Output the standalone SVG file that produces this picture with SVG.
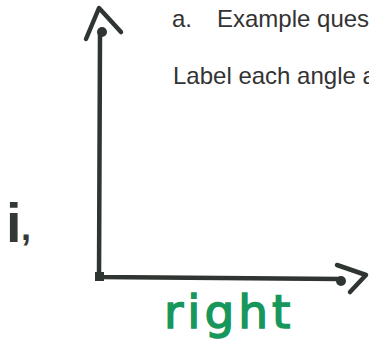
<svg xmlns="http://www.w3.org/2000/svg" width="369" height="345" viewBox="0 0 369 345">
<style>
.ink{fill:none;stroke:#2f3531;stroke-width:4.5;stroke-linecap:round;stroke-linejoin:round}
.dot{fill:#2f3531}
.print{font-family:"Liberation Sans",Arial,sans-serif;font-size:24px;fill:#333333}
</style>
<rect width="369" height="345" fill="#ffffff"/>
<g id="question-text">
<text class="print" x="172" y="27">a.</text>
<text class="print" x="217" y="27">Example ques</text>
<text class="print" x="173" y="84">Label each angle a</text>
</g>
<g id="label-i">
<text x="6" y="242" font-family="Liberation Sans,Arial,sans-serif" font-weight="bold" font-size="56" fill="#333a36">i</text>
<text x="21" y="240" font-family="Liberation Sans,Arial,sans-serif" font-weight="bold" font-size="36" fill="#333a36">,</text>
</g>
<g id="connectors">
<path class="ink" d="M100,34 L99,277 L340,279"/>
<path class="ink" d="M86,39 L99,8 L121,32"/>
<path class="ink" d="M337,265 L366,275 L350,292"/>
</g>
<g id="vertex">
<rect class="dot" x="95" y="272" width="9" height="9"/>
</g>
<g id="end-up">
<circle class="dot" cx="102" cy="32" r="5"/>
</g>
<g id="end-right">
<circle class="dot" cx="341" cy="281" r="5"/>
</g>
<g id="label-right">
<text x="164" y="328" font-family="DejaVu Sans,sans-serif" font-size="47" letter-spacing="4" fill="#17975c" stroke="#17975c" stroke-width="1.5">right</text>
</g>
</svg>
